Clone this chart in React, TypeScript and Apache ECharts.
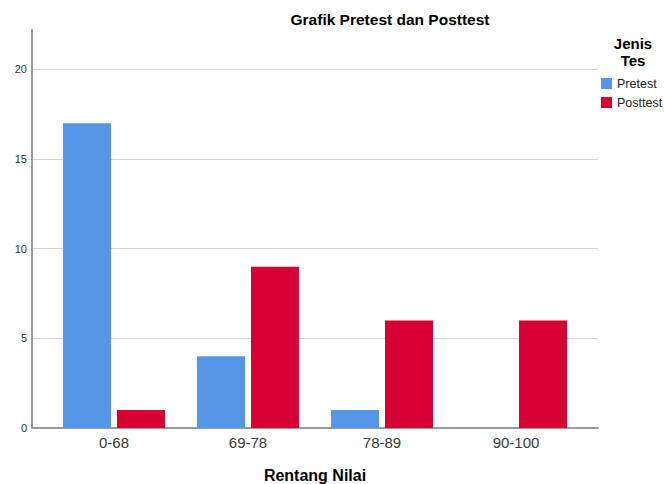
import React, { useEffect, useRef } from "react";
import * as echarts from "echarts";

const categories = ["0-68", "69-78", "78-89", "90-100"];
const pretest = [17, 4, 1, 0];
const posttest = [1, 9, 6, 6];
const seriesNames = ["Pretest", "Posttest"];
const yMax = 22.2;
const yInterval = 5;

export default function App() {
  const ref = useRef<HTMLDivElement>(null);
  useEffect(() => {
    if (!ref.current) return;
    const chart = echarts.init(ref.current, undefined, { renderer: "svg" });
    const font = "'Liberation Sans', Arial, sans-serif";
    chart.setOption({
      animation: false,
      backgroundColor: "#ffffff",
      textStyle: { fontFamily: font },
      title: {
        text: "Grafik Pretest dan Posttest",
        left: 390,
        textAlign: "center",
        top: 11,
        padding: 0,
        textStyle: { fontSize: 15.5, fontWeight: "bold", color: "#000", fontFamily: font },
      },
      graphic: [
        {
          type: "text",
          left: 613,
          top: 35,
          style: {
            text: "Jenis\nTes",
            font: `bold 15px ${font}`,
            fill: "#000",
            textAlign: "center",
            lineHeight: 17,
            width: 40,
          },
        },
      ],
      legend: {
        orient: "vertical",
        left: 601,
        top: 77,
        padding: 0,
        itemWidth: 11,
        itemHeight: 11,
        itemGap: 6,
        icon: "rect",
        data: seriesNames,
        textStyle: { fontSize: 12.5, color: "#222", fontFamily: font },
      },
      grid: [
        { left: 32, right: 66, top: 30, bottom: 56, outerBoundsMode: "none", containLabel: false },
        { left: 47, right: 81, top: 30, bottom: 56, outerBoundsMode: "none", containLabel: false },
      ],
      xAxis: [
        {
          gridIndex: 0,
          type: "value",
          min: 0,
          max: 1,
          axisLine: { show: true, lineStyle: { color: "#9a9a9a", width: 2 } },
          axisTick: { show: false },
          axisLabel: { show: false },
          splitLine: { show: false },
        },
        {
          gridIndex: 1,
          type: "category",
          data: categories,
          axisLine: { show: false },
          axisTick: { show: false },
          axisLabel: { fontSize: 15, color: "#3a3a3a", margin: 7, fontFamily: font },
          name: "Rentang Nilai",
          nameLocation: "middle",
          nameGap: 39,
          nameTextStyle: { fontSize: 16, fontWeight: "bold", color: "#000", fontFamily: font },
        },
      ],
      yAxis: [
        {
          gridIndex: 0,
          type: "value",
          min: 0,
          max: yMax,
          interval: yInterval,
          axisLine: { show: true, lineStyle: { color: "#9a9a9a", width: 2 } },
          axisTick: { show: false },
          axisLabel: { fontSize: 11, color: "#333", margin: 5, showMaxLabel: false, fontFamily: font },
          splitLine: { show: true, showMinLine: false, showMaxLine: false, lineStyle: { color: "#d4d4d4", width: 1 } },
        },
        {
          gridIndex: 1,
          type: "value",
          min: 0,
          max: yMax,
          interval: yInterval,
          show: false,
          splitLine: { show: false },
        },
      ],
      series: [
        {
          name: seriesNames[0],
          type: "bar",
          xAxisIndex: 1,
          yAxisIndex: 1,
          data: pretest,
          barWidth: 48,
          barGap: "12.5%",
          itemStyle: { color: "#5596e6" },
        },
        {
          name: seriesNames[1],
          type: "bar",
          xAxisIndex: 1,
          yAxisIndex: 1,
          data: posttest,
          barWidth: 48,
          barGap: "12.5%",
          itemStyle: { color: "#d70035" },
        },
      ],
    });
    return () => chart.dispose();
  }, []);
  return <div ref={ref} style={{ position: "fixed", left: 0, top: 0, width: 664, height: 484 }} />;
}
